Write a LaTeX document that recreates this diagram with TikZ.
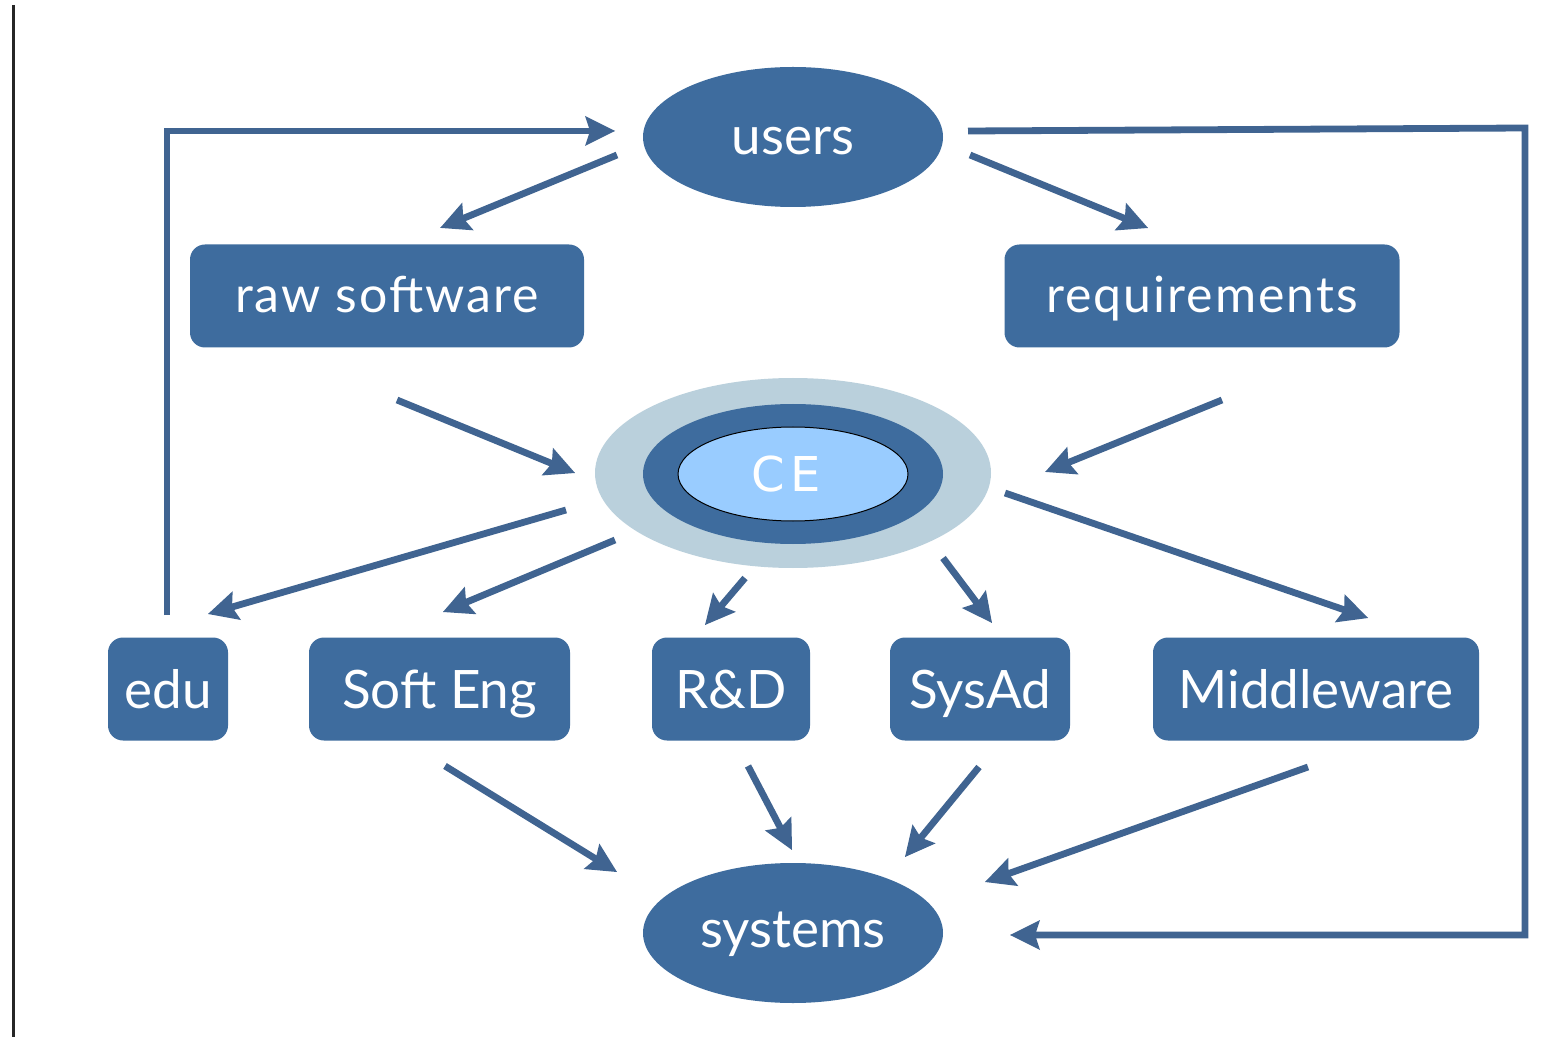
\documentclass[tikz,border=0pt]{standalone}
\usepackage{fontspec}
\setmainfont{Lato}
\newfontfamily\cefont{DejaVu Sans}
\newfontfamily\wideface{Lato}[LetterSpace=4]
\usetikzlibrary{shapes.geometric,decorations.markings}
\definecolor{boxblue}{RGB}{62,108,158}
\definecolor{arrowblue}{RGB}{64,100,145}
\definecolor{halo}{RGB}{186,208,220}
\definecolor{ceinner}{RGB}{153,204,255}
\tikzset{
  x=0.5pt, y=-0.5pt,
  basel/.style={text height=#1, text depth=0pt},
  unit/.style={draw=none, fill=boxblue, rounded corners=7.5pt, text=white,
    font=\fontsize{26.5}{30}\selectfont, minimum height=51.5pt, inner sep=0pt, basel=19pt},
  topunit/.style={unit, font=\wideface\fontsize{25}{30}\selectfont, basel=17pt},
  blob/.style={ellipse, draw=none, fill=boxblue, text=white,
    font=\fontsize{26.5}{30}\selectfont, minimum width=150pt, minimum height=70pt, inner sep=0pt},
  % shaft plus a solid barbed head placed at the end of the path
  flow/.style={draw=arrowblue, line width=3.4pt, shorten >=9pt,
    postaction={decorate},
    decoration={markings, mark=at position 1 with {
      \fill[arrowblue] (0pt,0pt) -- (-15pt,7.5pt) -- (-12.5pt,0pt) -- (-15pt,-7.5pt) -- cycle;
      \fill[arrowblue] (0pt,0pt) -- (-13pt,3pt) -- (-13pt,-3pt) -- cycle;}}},
  loopline/.style={flow}
}
\begin{document}
\begin{tikzpicture}
\useasboundingbox (0,0) rectangle (1558,1037);
\fill[white] (0,0) rectangle (1558,1037);
% frame edge on the left
\draw[line width=1.5pt, black!85] (13,5) -- (13,1037);

% top and bottom ellipses
\node[blob, basel=18pt] (users) at (793,137) {users};
\node[blob, basel=14pt] (systems) at (793,933) {systems};

% middle row
\node[topunit, minimum width=197pt] (raw) at (387,296) {raw software};
\node[topunit, minimum width=197.5pt] (req) at (1202,296) {requirements};

% core: halo, ring, inner ellipse
\node[ellipse, fill=halo, minimum width=198pt, minimum height=95pt, inner sep=0pt] (halo) at (793,473) {};
\node[ellipse, fill=boxblue, minimum width=150pt, minimum height=70pt, inner sep=0pt] (ring) at (793,474) {};
\node[ellipse, draw=black, line width=0.5pt, fill=ceinner, minimum width=115pt, minimum height=47pt,
  inner sep=0pt, text=white, font=\cefont\fontsize{24}{27}\selectfont] (ce) at (793,474) {\hspace*{-7pt}C\hspace{3pt}E};

% bottom row
\node[unit, minimum width=60pt] (edu) at (168,689) {edu};
\node[unit, minimum width=130.5pt] (soft) at (439.5,689) {Soft Eng};
\node[unit, minimum width=79pt] (rd) at (731,689) {R\&D};
\node[unit, minimum width=90pt] (sysad) at (980,689) {SysAd};
\node[unit, minimum width=163pt] (mid) at (1316,689) {Middleware};

% arrow end points
\coordinate (uL) at (617,155);   \coordinate (rawT) at (440,228);
\coordinate (uR) at (970,155);   \coordinate (reqT) at (1148,228);
\coordinate (rawB) at (397,400); \coordinate (ceL) at (575,473);
\coordinate (reqB) at (1222,400);\coordinate (ceR) at (1045,472);
\coordinate (ce1) at (566,510);  \coordinate (eduT) at (208,614);
\coordinate (ce2) at (615,540);  \coordinate (softT) at (443,612);
\coordinate (ce3) at (745,578);  \coordinate (rdT) at (705,625);
\coordinate (ce4) at (943,558);  \coordinate (sysT) at (992,623);
\coordinate (ce5) at (1005,493); \coordinate (midT) at (1368,618);
\coordinate (softB) at (445,766);\coordinate (sy1) at (617,872);
\coordinate (rdB) at (748,766);  \coordinate (sy2) at (792,850);
\coordinate (sysB) at (979,767); \coordinate (sy3) at (905,857);
\coordinate (midB) at (1308,767);\coordinate (sy4) at (985,882);
\coordinate (eduUp) at (167,615);\coordinate (uIn) at (615,131);
\coordinate (uOut) at (968,131); \coordinate (syIn) at (1010,935);

% feedback loops
\draw[loopline] (eduUp) |- (uIn);
\draw[loopline] (uOut) -- (1525,128) -- (1525,935) -- (syIn);

% flows
\draw[flow] (uL) -- (rawT);
\draw[flow] (uR) -- (reqT);
\draw[flow] (rawB) -- (ceL);
\draw[flow] (reqB) -- (ceR);
\draw[flow] (ce1) -- (eduT);
\draw[flow] (ce2) -- (softT);
\draw[flow] (ce3) -- (rdT);
\draw[flow] (ce4) -- (sysT);
\draw[flow] (ce5) -- (midT);
\draw[flow] (softB) -- (sy1);
\draw[flow] (rdB) -- (sy2);
\draw[flow] (sysB) -- (sy3);
\draw[flow] (midB) -- (sy4);
\end{tikzpicture}
\end{document}
